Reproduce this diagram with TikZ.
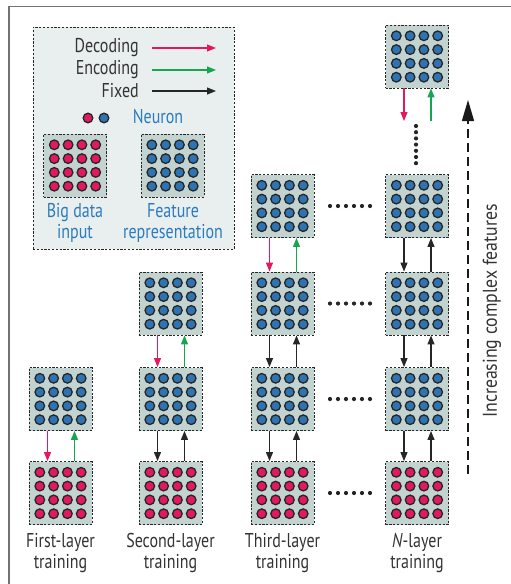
\documentclass[tikz,border=0pt]{standalone}
\usepackage{fontspec}
\setmainfont[FakeStretch=0.8]{PT Sans}
\newfontfamily\widesans[FakeStretch=0.89]{PT Sans}
\usetikzlibrary{arrows.meta}
\definecolor{pinkc}{HTML}{E4185C}
\definecolor{bluec}{HTML}{2E74B5}
\definecolor{greenc}{HTML}{16A650}
\definecolor{boxfill}{HTML}{C3D3D0}
\definecolor{legfill}{HTML}{E9EFEF}
\definecolor{txt}{HTML}{333333}
\definecolor{bluetxt}{HTML}{2B7BBE}
\tikzset{
  layerbox/.style={draw=black!85, dashed, dash pattern=on 2.2pt off 1.6pt, line width=0.9pt,
    fill=boxfill, minimum width=63pt, minimum height=63pt, inner sep=0pt},
  neuron/.style={draw=black!85, line width=1.3pt, fill=#1},
  dec/.style={draw=pinkc, line width=1.1pt, -{Triangle[length=9pt,width=7pt]}},
  enc/.style={draw=greenc, line width=1.1pt, -{Triangle[length=9pt,width=7pt]}},
  fix/.style={draw=black!85, line width=1.1pt, -{Triangle[length=9pt,width=7pt]}},
  lbl/.style={text=txt, font=\fontsize{20}{21.5}\selectfont, align=center, inner sep=0pt},
  bluelbl/.style={text=bluetxt, font=\fontsize{20}{21}\selectfont, align=center, inner sep=0pt},
  dotc/.style={fill=black!85},
}
% a 4x4 grid of neurons inside a named box
\newcommand\neurongrid[2]{%
  \foreach \gi in {-20.7,-6.9,6.9,20.7}{%
    \foreach \gj in {-20.7,-6.9,6.9,20.7}{%
      \path[neuron=#2] ([shift={(\gi pt,\gj pt)}]#1.center) circle (4.8pt);}}}
% a layer box at a position, with its neurons
\newcommand\layer[4]{%
  \node[layerbox] (#1) at (#2,#3) {};
  \neurongrid{#1}{#4}}
% decoding / encoding (or fixed) pair between an upper and a lower box
\newcommand\links[4]{%
  \draw[#3] ([xshift=-13pt]#1.south) -- ([xshift=-13pt]#2.north);
  \draw[#4] ([xshift=14pt]#2.north) -- ([xshift=14pt]#1.south);}
\begin{document}
\begin{tikzpicture}[x=1pt,y=-1pt]
\useasboundingbox (0,0) rectangle (511,584);
% outer frame (top and left edges)
\draw[draw=black!55, line width=1.2pt] (511,6.5) -- (9,6.5) -- (9,584);

% legend panel
\node[draw=black!85, dashed, dash pattern=on 2.2pt off 1.6pt, line width=0.9pt, fill=legfill,
      minimum width=201pt, minimum height=222pt, inner sep=0pt] (legend) at (133.5,138) {};
\node[lbl, anchor=east] (tdec) at (139,48) {Decoding};
\node[lbl, anchor=east] (tenc) at (139,69.5) {Encoding};
\node[lbl, anchor=east] (tfix) at (139,91) {Fixed};
\coordinate (ad0) at (152,48);  \coordinate (ad1) at (216,48);
\coordinate (ae0) at (152,70);  \coordinate (ae1) at (216,70);
\coordinate (af0) at (152,91);  \coordinate (af1) at (216,91);
\draw[dec] (ad0) -- (ad1);
\draw[enc] (ae0) -- (ae1);
\draw[fix] (af0) -- (af1);
\path[neuron=pinkc] (88,118) circle (4.8pt);
\path[neuron=bluec] (104,118) circle (4.8pt);
\node[bluelbl] (tneuron) at (158,117) {Neuron};
\layer{legin}{75}{165.5}{pinkc}
\layer{legfeat}{172.5}{165.5}{bluec}
\node[bluelbl] (tin) at (75,223) {Big data\\input};
\node[bluelbl] (tfeat) at (173,223) {Feature\\representation};

% first-layer training
\layer{a1}{60.5}{493}{pinkc}
\layer{a2}{60.5}{399}{bluec}
\links{a2}{a1}{dec}{enc}

% second-layer training
\layer{b1}{170.5}{493}{pinkc}
\layer{b2}{170.5}{399}{bluec}
\layer{b3}{170.5}{303.5}{bluec}
\links{b2}{b1}{fix}{fix}
\links{b3}{b2}{dec}{enc}

% third-layer training
\layer{c1}{282.5}{493}{pinkc}
\layer{c2}{282.5}{399}{bluec}
\layer{c3}{282.5}{303.5}{bluec}
\layer{c4}{282.5}{206}{bluec}
\links{c2}{c1}{fix}{fix}
\links{c3}{c2}{fix}{fix}
\links{c4}{c3}{dec}{enc}

% N-layer training
\layer{n1}{417}{493}{pinkc}
\layer{n2}{417}{399}{bluec}
\layer{n3}{417}{303.5}{bluec}
\layer{n4}{417}{206}{bluec}
\layer{n5}{417}{56.5}{bluec}
\links{n2}{n1}{fix}{fix}
\links{n3}{n2}{fix}{fix}
\links{n4}{n3}{fix}{fix}
\coordinate (nd) at (404,121);
\coordinate (ne) at (431,121);
\draw[dec] ([xshift=-13pt]n5.south) -- (nd);
\draw[enc] (ne) -- ([xshift=14pt]n5.south);

% vertical ellipsis between the top layers
\foreach \k in {0,...,6} \fill[dotc] (416,126+6.2*\k) circle (2.1pt);
% horizontal ellipses between the third and N-th columns
\foreach \yy in {206,303.5,399,493}
  \foreach \k in {0,...,5} \fill[dotc] (330+8*\k,\yy) circle (2.1pt);

% column captions
\node[lbl] (ca) at (60.5,553) {First-layer\\training};
\node[lbl] (cb) at (170.5,553) {Second-layer\\training};
\node[lbl] (cc) at (282.5,553) {Third-layer\\training};
\node[lbl] (cn) at (417,553) {\textit{N}-layer\\training};

% direction of increasing feature complexity
\coordinate (up0) at (468,474);
\coordinate (up1) at (468,100);
\draw[black!90, line width=1.3pt, dash pattern=on 9pt off 5pt,
      -{Triangle[length=21pt,width=12pt]}] (up0) -- (up1);
\node[lbl, rotate=90, font=\widesans\fontsize{20}{21}\selectfont] (tinc) at (492,311) {Increasing complex features};
\end{tikzpicture}
\end{document}
